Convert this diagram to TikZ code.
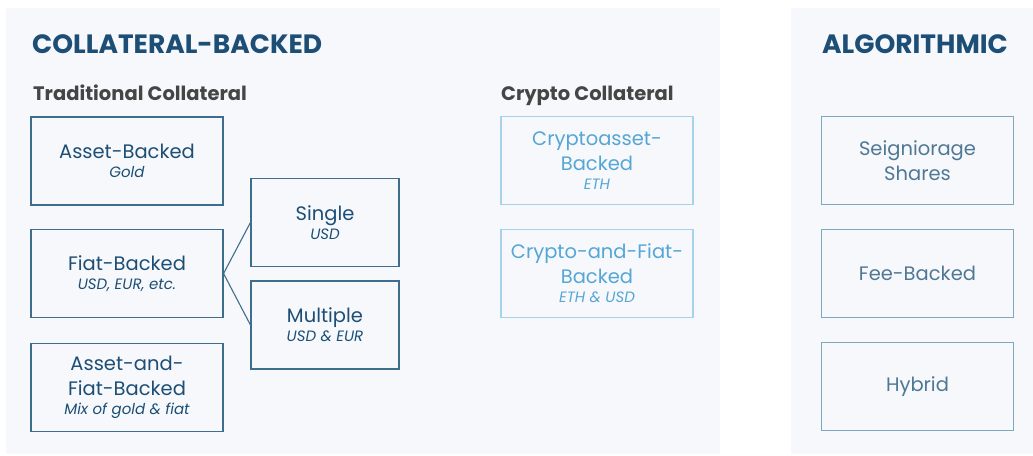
\documentclass[tikz,border=0pt]{standalone}
\usepackage{fontspec}
\setmainfont{Poppins}
\usetikzlibrary{positioning}
\definecolor{panelbg}{HTML}{F6F8FC}
\definecolor{navy}{HTML}{1D4E75}
\definecolor{darkgray}{HTML}{454545}
\definecolor{boxline}{HTML}{3E6D8E}
\definecolor{cryptotxt}{HTML}{55A6D4}
\definecolor{cryptoline}{HTML}{A6D2EA}
\definecolor{algotxt}{HTML}{4F7894}
\definecolor{algoline}{HTML}{7FA8C0}
\newcommand{\subtxt}[1]{{\fontsize{15}{17}\selectfont\itshape #1}}
\tikzset{
  heading/.style={anchor=base west, inner sep=0pt, text=navy, font=\fontsize{26.5}{30}\selectfont\bfseries},
  group/.style={anchor=base west, inner sep=0pt, text=darkgray, font=\fontsize{19.5}{22}\selectfont\bfseries},
  box/.style={draw=boxline, line width=1.1pt, minimum width=192pt, minimum height=88pt,
    align=center, inner sep=0pt, text=navy, font=\fontsize{19.5}{25}\selectfont},
  smallbox/.style={box, minimum width=148pt},
  cryptobox/.style={box, draw=cryptoline, text=cryptotxt},
  algobox/.style={box, draw=algoline, text=algotxt},
  conn/.style={draw=boxline, line width=1.1pt}
}
\begin{document}
\begin{tikzpicture}[x=1pt, y=-1pt]
  \useasboundingbox (0,0) rectangle (1033,455);
  % panels
  \fill[panelbg] (6,8) rectangle (720,454);
  \fill[panelbg] (791,8) rectangle (1033,454);

  \node[heading] (collat) at (32,53) {COLLATERAL-BACKED};
  \node[heading] (algo) at (822,53) {ALGORITHMIC};
  \node[group] (trad) at (33,100) {Traditional Collateral};
  \node[group] (crypto) at (501,100) {Crypto Collateral};

  % traditional collateral
  \node[box] (asset) at (127,161) {Asset-Backed\\[-6pt]\subtxt{Gold}};
  \node[box] (fiat) at (127,273.5) {Fiat-Backed\\[-6pt]\subtxt{USD, EUR, etc.}};
  \node[box] (assetfiat) at (127,387.5) {Asset-and-\\Fiat-Backed\\[-6pt]\subtxt{Mix of gold \& fiat}};
  \node[smallbox] (single) at (325,222.5) {Single\\[-6pt]\subtxt{USD}};
  \node[smallbox] (multiple) at (325,325) {Multiple\\[-6pt]\subtxt{USD \& EUR}};

  \draw[conn] (fiat.east) -- (single.west);
  \draw[conn] (fiat.east) -- (multiple.west);

  % crypto collateral
  \node[cryptobox] (cryptoasset) at (597,160.5) {Cryptoasset-\\Backed\\[-6pt]\subtxt{ETH}};
  \node[cryptobox] (cryptofiat) at (597,273.5) {Crypto-and-Fiat-\\Backed\\[-6pt]\subtxt{ETH \& USD}};

  % algorithmic
  \node[algobox] (seign) at (917.5,160.5) {Seigniorage\\Shares};
  \node[algobox] (fee) at (917.5,273.5) {Fee-Backed};
  \node[algobox] (hybrid) at (917.5,386.5) {Hybrid};
\end{tikzpicture}
\end{document}
